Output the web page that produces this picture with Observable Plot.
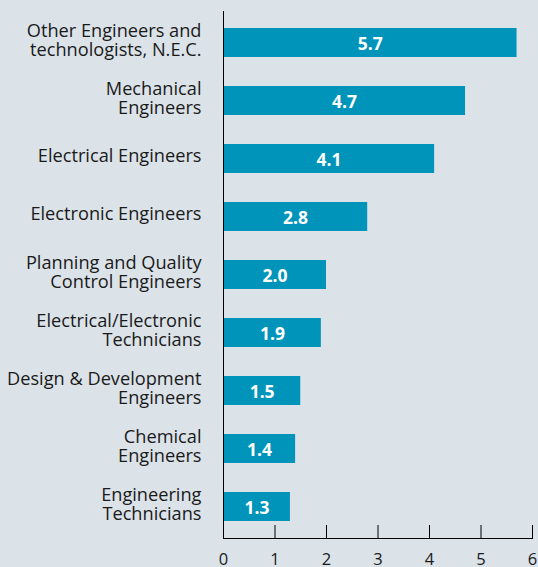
<!DOCTYPE html>
<html><head><meta charset="utf-8">
<script src="https://cdn.jsdelivr.net/npm/d3@7"></script>
<script src="https://cdn.jsdelivr.net/npm/@observablehq/plot@0.6"></script>
<style>html,body{margin:0;padding:0;background:#dbe3e9;}</style>
</head><body><div id="chart"></div>
<script>
const categories = [
  "Other Engineers and technologists, N.E.C.",
  "Mechanical Engineers",
  "Electrical Engineers",
  "Electronic Engineers",
  "Planning and Quality Control Engineers",
  "Electrical/Electronic Technicians",
  "Design & Development Engineers",
  "Chemical Engineers",
  "Engineering Technicians"
];
const labelLines = [
  "Other Engineers and\ntechnologists, N.E.C.",
  "Mechanical\nEngineers",
  "Electrical Engineers",
  "Electronic Engineers",
  "Planning and Quality\nControl Engineers",
  "Electrical/Electronic\nTechnicians",
  "Design & Development\nEngineers",
  "Chemical\nEngineers",
  "Engineering\nTechnicians"
];
const values = [5.7, 4.7, 4.1, 2.8, 2.0, 1.9, 1.5, 1.4, 1.3];
const xTicks = [0, 1, 2, 3, 4, 5, 6];

const data = categories.map((c, i) => ({category: c, label: labelLines[i], value: values[i]}));

const chart = Plot.plot({
  width: 538, height: 567,
  marginTop: 11, marginBottom: 29, marginLeft: 223, marginRight: 6,
  style: {background: "#dbe3e9", fontFamily: "'Open Sans', sans-serif", color: "#1a1a1a"},
  x: {domain: [0, 6], ticks: xTicks, label: null},
  y: {domain: categories, paddingInner: 0.5, paddingOuter: 0.25, axis: null},
  marks: [
    Plot.barX(data, {x: "value", y: "category", fill: "#0094ba"}),
    Plot.text(data, {x: d => d.value / 2, y: "category", text: d => d.value.toFixed(1), fill: "white", fontWeight: "bold", fontSize: 17.5, dy: 1}),
    Plot.text(data, {x: 0, y: "category", text: "label", dx: -22, dy: -3, textAnchor: "end", fontSize: 18.2, lineHeight: 1.04, fill: "#1a1a1a"}),
    Plot.ruleX([0], {stroke: "black"}),
    Plot.ruleX(xTicks, {x: d => d, insetTop: 514, stroke: "black"}),
    Plot.frame({anchor: "bottom", stroke: "black"}),
    Plot.axisX({ticks: xTicks, tickSize: 0, tickPadding: 15, fontSize: 16.5, fill: "#1a1a1a", tickFormat: d => String(d)})
  ]
});
document.getElementById("chart").append(chart);
</script>
</body></html>
